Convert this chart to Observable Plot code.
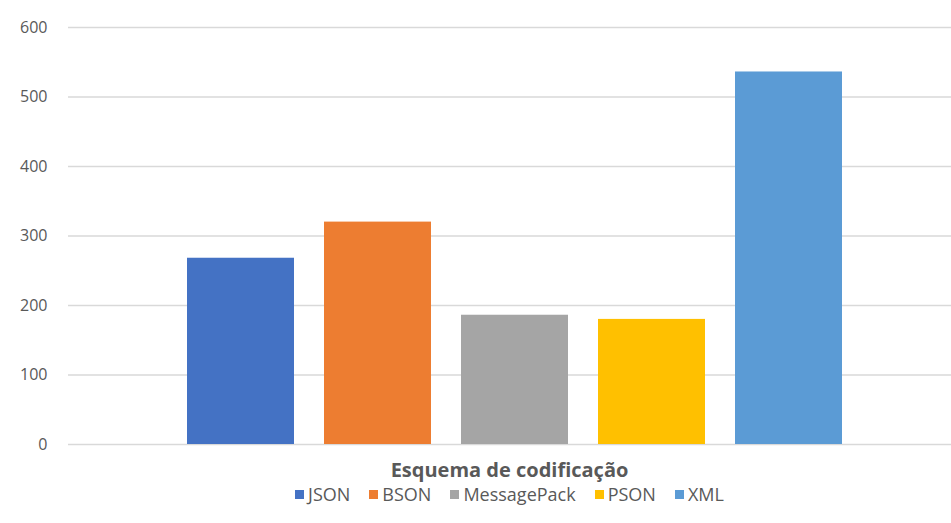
<!DOCTYPE html>
<html>
<head>
<meta charset="utf-8">
<script src="https://cdn.jsdelivr.net/npm/d3@7"></script>
<script src="https://cdn.jsdelivr.net/npm/@observablehq/plot@0.6"></script>
<style>
  body { margin: 0; background: #fff; font-family: "Open Sans", sans-serif; }
  #title { padding-left: 68px; text-align: center; font-weight: bold; font-size: 20px; color: #595959; margin-top: 0px; height: 27px; line-height: 27px; }
  #legend { padding-left: 68px; display: flex; justify-content: center; gap: 19px; font-size: 18px; color: #595959; height: 22px; line-height: 22px; }
  #legend span.item { display: inline-flex; align-items: center; }
  #legend span.sw { display: inline-block; width: 9px; height: 9px; margin-right: 4px; }
</style>
</head>
<body>
<div id="chart"></div>
<div id="title"></div>
<div id="legend"></div>
<script>
const categories = ["JSON", "BSON", "MessagePack", "PSON", "XML"];
const values = [268, 320, 186, 180, 536];
const colors = ["#4472C4", "#ED7D31", "#A5A5A5", "#FFC000", "#5B9BD5"];
const yTicks = [0, 100, 200, 300, 400, 500, 600];
const axisTitle = "Esquema de codificação";

const data = categories.map((c, i) => ({category: c, value: values[i]}));

const chart = Plot.plot({
  width: 951,
  height: 456,
  marginLeft: 68,
  marginRight: 0,
  marginTop: 27,
  marginBottom: 12,
  style: {fontFamily: "'Open Sans', sans-serif", fontSize: "16px", color: "#595959", background: "#fff"},
  x: {domain: categories, paddingInner: 0.219, paddingOuter: 0, insetLeft: 119, insetRight: 109, axis: null},
  y: {domain: [0, 600], ticks: yTicks, label: null},
  color: {domain: categories, range: colors},
  marks: [
    Plot.gridY(yTicks, {stroke: "#d9d9d9", strokeOpacity: 1, strokeWidth: 1.5}),
    Plot.axisY(yTicks, {tickSize: 0, tickPadding: 21, label: null, fill: "#595959", fontSize: 16}),
    Plot.barY(data, {x: "category", y: "value", fill: "category"})
  ]
});
document.getElementById("chart").appendChild(chart);
document.getElementById("title").textContent = axisTitle;
const legend = document.getElementById("legend");
categories.forEach((c, i) => {
  const item = document.createElement("span");
  item.className = "item";
  const sw = document.createElement("span");
  sw.className = "sw";
  sw.style.background = colors[i];
  item.appendChild(sw);
  item.appendChild(document.createTextNode(c));
  legend.appendChild(item);
});
</script>
</body>
</html>
